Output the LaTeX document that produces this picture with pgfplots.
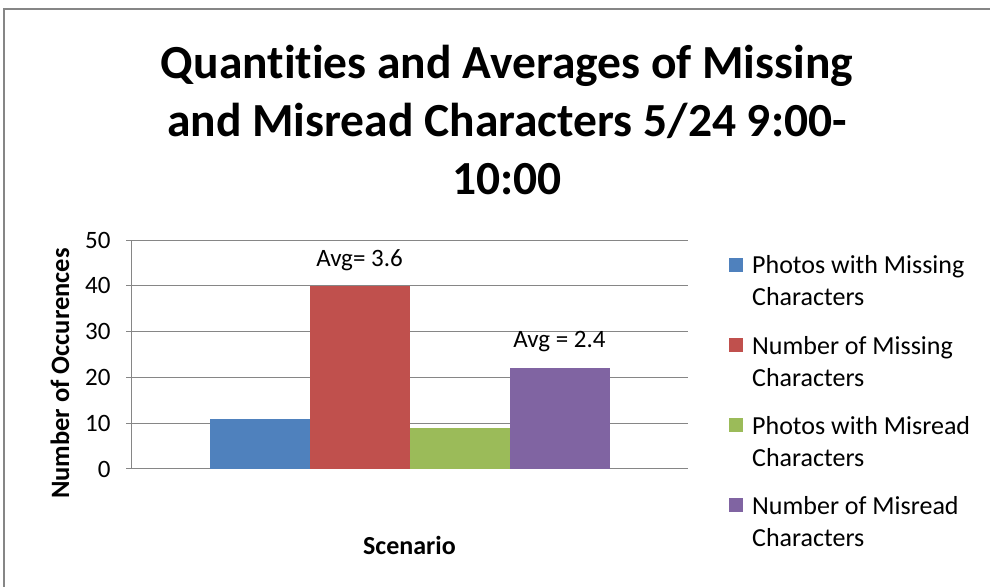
\documentclass[border=0pt]{standalone}
\usepackage{pgfplots}
\pgfplotsset{compat=1.18}
\usepackage{fontspec}
\setmainfont{Carlito}[Ligatures={NoCommon}]
\definecolor{cblue}{HTML}{4F81BD}
\definecolor{cred}{HTML}{C0504D}
\definecolor{cgreen}{HTML}{9BBB59}
\definecolor{cpurple}{HTML}{8064A2}
\definecolor{cgrid}{HTML}{868686}
\begin{document}
\begin{tikzpicture}[x=1pt,y=1pt]
\useasboundingbox (0,0) rectangle (990,586);
\draw[cgrid,line width=1.5pt] (4,-20) -- (4,577) -- (1010,577);
\node[align=center,font=\fontsize{47.5}{58}\selectfont\bfseries] at (507,466) {Quantities and Averages of Missing\\and Misread Characters 5/24 9:00-\\10:00};
\begin{axis}[
  at={(131pt,117pt)}, anchor=south west,
  scale only axis, width=557pt, height=229pt,
  xmin=-2.785, xmax=2.785, ymin=0, ymax=50,
  ytick={0,10,...,50}, xtick=\empty,
  axis lines*=left,
  axis line style={cgrid, line width=1pt},
  ymajorgrids, grid style={cgrid, line width=1pt},
  tick align=outside, major tick length=5pt,
  ytick style={cgrid, line width=1pt},
  ticklabel style={font=\fontsize{25}{30}\selectfont},
  /pgf/number format/assume math mode=true,
  yticklabel style={xshift=-12pt},
  ylabel={Number of Occurences},
  ylabel style={font=\fontsize{26.5}{30}\selectfont\bfseries, at={(axis description cs:0,0.5)}, anchor=center, xshift=-19pt, yshift=71pt},
  xlabel={Scenario},
  xlabel style={font=\fontsize{26}{30}\selectfont\bfseries, at={(axis description cs:0.5,0)}, anchor=center, yshift=-76pt},
  ybar, bar width=1, bar shift=0,
  legend style={draw=none, at={(axis description cs:1.0736,0.94)}, anchor=north west, font=\fontsize{26}{32}\selectfont, cells={align=left, anchor=west}, row sep=24.5pt, inner sep=0pt},
  legend image code/.code={\fill[#1] (0pt,10pt) rectangle (14pt,24pt); \path (21pt,17pt);},
]
\addplot[fill=cblue, draw=none] coordinates {(-1.5,11)};
\addplot[fill=cred, draw=none] coordinates {(-0.5,40)};
\addplot[fill=cgreen, draw=none] coordinates {(0.5,9)};
\addplot[fill=cpurple, draw=none] coordinates {(1.5,22)};
\legend{Photos with Missing\\Characters, Number of Missing\\Characters, Photos with Misread\\Characters, Number of Misread\\Characters}
\node[font=\fontsize{25}{30}\selectfont] at (axis cs:-0.5,45.6) {Avg= 3.6};
\node[font=\fontsize{25}{30}\selectfont] at (axis cs:1.5,27.8) {Avg = 2.4};
\end{axis}
\end{tikzpicture}
\end{document}
